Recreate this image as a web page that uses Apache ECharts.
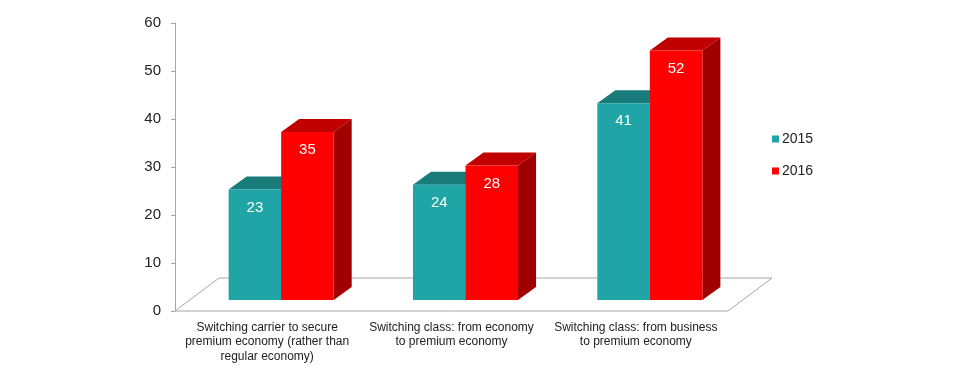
<!DOCTYPE html>
<html><head><meta charset="utf-8">
<script src="https://cdn.jsdelivr.net/npm/echarts@6/dist/echarts.min.js"></script>
<style>html,body{margin:0;padding:0;background:#fff}#c{width:980px;height:380px}</style>
</head><body><div id="c"></div>
<script>
const categories = [
  'Switching carrier to secure\npremium economy (rather than\nregular economy)',
  'Switching class: from economy\nto premium economy',
  'Switching class: from business\nto premium economy'
];
const seriesNames = ['2015', '2016'];
const values2015 = [23, 24, 41];
const values2016 = [35, 28, 52];
const yTicks = [0, 10, 20, 30, 40, 50, 60];

const FONT = 'Liberation Sans, Arial, sans-serif';
const palette = [
  {front: '#1fa5a5', top: '#1a7b7b', side: '#157070'},
  {front: '#ff0000', top: '#c00000', side: '#a00000'}
];
const posOff = [14, -11];   // bar placement depth within floor
const barDepth = [18, -13];
const floorDepth = [44, -33];

function barRender(sIdx) {
  return function (params, api) {
    const cat = api.value(0), v = api.value(1);
    const base = api.coord([cat, 0]);
    const top = api.coord([cat, v]);
    const band = api.size([1, 0])[0];
    const w = band * 0.285;
    const x0 = base[0] + posOff[0] + (sIdx === 0 ? -w : 0);
    const yb = base[1] + posOff[1];
    const yt = top[1] + posOff[1];
    const c = palette[sIdx];
    const dx = barDepth[0], dy = barDepth[1];
    return {
      type: 'group',
      children: [
        {type: 'polygon', shape: {points: [[x0 + w, yt], [x0 + w + dx, yt + dy], [x0 + w + dx, yb + dy], [x0 + w, yb]]}, style: {fill: c.side}},
        {type: 'polygon', shape: {points: [[x0, yt], [x0 + w, yt], [x0 + w + dx, yt + dy], [x0 + dx, yt + dy]]}, style: {fill: c.top}},
        {type: 'rect', shape: {x: x0, y: yt, width: w, height: yb - yt}, style: {fill: c.front}},
        {type: 'text', style: {x: x0 + w / 2, y: yt + 18, text: String(v), fill: '#fff', font: '15px ' + FONT, align: 'center', verticalAlign: 'middle'}}
      ]
    };
  };
}

function floorRender(params, api) {
  const cs = params.coordSys;
  const xl = cs.x, xr = cs.x + cs.width, yf = cs.y + cs.height;
  const dx = floorDepth[0], dy = floorDepth[1];
  return {
    type: 'polygon',
    shape: {points: [[xl, yf], [xr, yf], [xr + dx, yf + dy], [xl + dx, yf + dy]]},
    style: {fill: '#fff', stroke: '#a6a6a6', lineWidth: 1}
  };
}

const chart = echarts.init(document.getElementById('c'), null, {renderer: 'canvas'});
chart.setOption({
  backgroundColor: '#fff',
  animation: false,
  grid: {left: 175, right: 252, top: 23, bottom: 69},
  legend: {
    orient: 'vertical', left: 767, top: 127,
    itemWidth: 7, itemHeight: 7, itemGap: 18, icon: 'rect',
    textStyle: {fontFamily: FONT, fontSize: 14, color: '#222', padding: [0, 0, 0, -2]},
    data: seriesNames
  },
  xAxis: {
    type: 'category', data: categories,
    axisLine: {show: false}, axisTick: {show: false},
    axisLabel: {fontFamily: FONT, fontSize: 12, color: '#222', lineHeight: 14.5, margin: 9, interval: 0}
  },
  yAxis: {
    type: 'value', min: 0, max: 60, interval: 10,
    splitLine: {show: false},
    axisLine: {show: true, lineStyle: {color: '#a6a6a6'}},
    axisTick: {show: true, length: 4, lineStyle: {color: '#a6a6a6'}},
    axisLabel: {fontFamily: FONT, fontSize: 15, color: '#222', margin: 14,
      formatter: function (v) { return yTicks.indexOf(v) >= 0 ? String(v) : ''; }}
  },
  series: [
    {type: 'custom', name: '__floor', renderItem: floorRender, data: [[0, 0]], z: 1, silent: true},
    {type: 'custom', name: seriesNames[0], itemStyle: {color: palette[0].front}, renderItem: barRender(0),
      encode: {x: 0, y: 1}, data: values2015.map((v, i) => [i, v]), z: 2},
    {type: 'custom', name: seriesNames[1], itemStyle: {color: palette[1].front}, renderItem: barRender(1),
      encode: {x: 0, y: 1}, data: values2016.map((v, i) => [i, v]), z: 3}
  ]
});
</script></body></html>
